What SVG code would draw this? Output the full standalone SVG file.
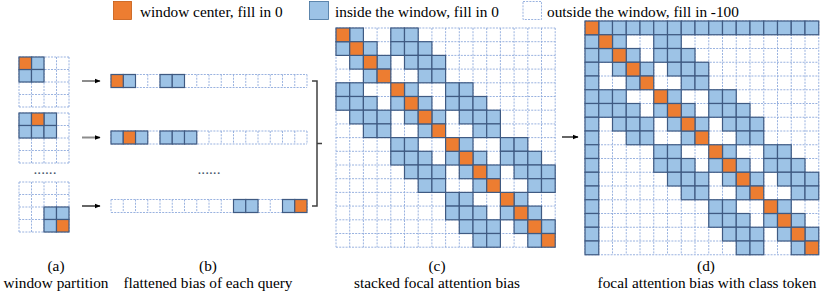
<svg xmlns="http://www.w3.org/2000/svg" xmlns:xlink="http://www.w3.org/1999/xlink" width="830" height="292" viewBox="0 0 830 292">
<style>
.t{font-family:"Liberation Serif","Times New Roman",serif;font-size:15.3px;fill:#000}
.dots{font-family:"Liberation Serif","Times New Roman",serif;font-size:15.3px;fill:#44546A}
.grid{fill:none;stroke:#8FAADC;stroke-width:0.9;stroke-dasharray:2 1.2}
.b{fill:#9DC3E6;stroke:#3F5A82}
.o{fill:#ED7D31;stroke:#3F5A82}
.arr{fill:none;stroke:#000;stroke-width:1.2}
.arg{fill:none;stroke:#8C8C8C;stroke-width:2}
</style>
<defs>
<marker id="ah" viewBox="0 0 10 10" refX="9" refY="5" markerWidth="6" markerHeight="6" orient="auto" markerUnits="userSpaceOnUse"><path d="M0 1L10 5L0 9z" fill="#000"/></marker>
<path id="ga" d="M0 0V50M12.5 0V50M25 0V50M37.5 0V50M50 0V50M0 0H50M0 12.5H50M0 25H50M0 37.5H50M0 50H50"/>
<path id="gb" d="M0 0V13M12.25 0V13M24.5 0V13M36.75 0V13M49 0V13M61.25 0V13M73.5 0V13M85.75 0V13M98 0V13M110.25 0V13M122.5 0V13M134.75 0V13M147 0V13M159.25 0V13M171.5 0V13M183.75 0V13M196 0V13M0 0H196M0 13H196"/>
<g id="fm">
<rect class="b" x="1" y="0" width="1" height="1"/><rect class="b" x="4" y="0" width="1" height="1"/><rect class="b" x="5" y="0" width="1" height="1"/>
<rect class="b" x="0" y="1" width="1" height="1"/><rect class="b" x="2" y="1" width="1" height="1"/><rect class="b" x="4" y="1" width="1" height="1"/><rect class="b" x="5" y="1" width="1" height="1"/><rect class="b" x="6" y="1" width="1" height="1"/>
<rect class="b" x="1" y="2" width="1" height="1"/><rect class="b" x="3" y="2" width="1" height="1"/><rect class="b" x="5" y="2" width="1" height="1"/><rect class="b" x="6" y="2" width="1" height="1"/><rect class="b" x="7" y="2" width="1" height="1"/>
<rect class="b" x="2" y="3" width="1" height="1"/><rect class="b" x="6" y="3" width="1" height="1"/><rect class="b" x="7" y="3" width="1" height="1"/>
<rect class="b" x="0" y="4" width="1" height="1"/><rect class="b" x="1" y="4" width="1" height="1"/><rect class="b" x="5" y="4" width="1" height="1"/><rect class="b" x="8" y="4" width="1" height="1"/><rect class="b" x="9" y="4" width="1" height="1"/>
<rect class="b" x="0" y="5" width="1" height="1"/><rect class="b" x="1" y="5" width="1" height="1"/><rect class="b" x="2" y="5" width="1" height="1"/><rect class="b" x="4" y="5" width="1" height="1"/><rect class="b" x="6" y="5" width="1" height="1"/><rect class="b" x="8" y="5" width="1" height="1"/><rect class="b" x="9" y="5" width="1" height="1"/><rect class="b" x="10" y="5" width="1" height="1"/>
<rect class="b" x="1" y="6" width="1" height="1"/><rect class="b" x="2" y="6" width="1" height="1"/><rect class="b" x="3" y="6" width="1" height="1"/><rect class="b" x="5" y="6" width="1" height="1"/><rect class="b" x="7" y="6" width="1" height="1"/><rect class="b" x="9" y="6" width="1" height="1"/><rect class="b" x="10" y="6" width="1" height="1"/><rect class="b" x="11" y="6" width="1" height="1"/>
<rect class="b" x="2" y="7" width="1" height="1"/><rect class="b" x="3" y="7" width="1" height="1"/><rect class="b" x="6" y="7" width="1" height="1"/><rect class="b" x="10" y="7" width="1" height="1"/><rect class="b" x="11" y="7" width="1" height="1"/>
<rect class="b" x="4" y="8" width="1" height="1"/><rect class="b" x="5" y="8" width="1" height="1"/><rect class="b" x="9" y="8" width="1" height="1"/><rect class="b" x="12" y="8" width="1" height="1"/><rect class="b" x="13" y="8" width="1" height="1"/>
<rect class="b" x="4" y="9" width="1" height="1"/><rect class="b" x="5" y="9" width="1" height="1"/><rect class="b" x="6" y="9" width="1" height="1"/><rect class="b" x="8" y="9" width="1" height="1"/><rect class="b" x="10" y="9" width="1" height="1"/><rect class="b" x="12" y="9" width="1" height="1"/><rect class="b" x="13" y="9" width="1" height="1"/><rect class="b" x="14" y="9" width="1" height="1"/>
<rect class="b" x="5" y="10" width="1" height="1"/><rect class="b" x="6" y="10" width="1" height="1"/><rect class="b" x="7" y="10" width="1" height="1"/><rect class="b" x="9" y="10" width="1" height="1"/><rect class="b" x="11" y="10" width="1" height="1"/><rect class="b" x="13" y="10" width="1" height="1"/><rect class="b" x="14" y="10" width="1" height="1"/><rect class="b" x="15" y="10" width="1" height="1"/>
<rect class="b" x="6" y="11" width="1" height="1"/><rect class="b" x="7" y="11" width="1" height="1"/><rect class="b" x="10" y="11" width="1" height="1"/><rect class="b" x="14" y="11" width="1" height="1"/><rect class="b" x="15" y="11" width="1" height="1"/>
<rect class="b" x="8" y="12" width="1" height="1"/><rect class="b" x="9" y="12" width="1" height="1"/><rect class="b" x="13" y="12" width="1" height="1"/>
<rect class="b" x="8" y="13" width="1" height="1"/><rect class="b" x="9" y="13" width="1" height="1"/><rect class="b" x="10" y="13" width="1" height="1"/><rect class="b" x="12" y="13" width="1" height="1"/><rect class="b" x="14" y="13" width="1" height="1"/>
<rect class="b" x="9" y="14" width="1" height="1"/><rect class="b" x="10" y="14" width="1" height="1"/><rect class="b" x="11" y="14" width="1" height="1"/><rect class="b" x="13" y="14" width="1" height="1"/><rect class="b" x="15" y="14" width="1" height="1"/>
<rect class="b" x="10" y="15" width="1" height="1"/><rect class="b" x="11" y="15" width="1" height="1"/><rect class="b" x="14" y="15" width="1" height="1"/>
<rect class="o" x="0" y="0" width="1" height="1"/><rect class="o" x="1" y="1" width="1" height="1"/><rect class="o" x="2" y="2" width="1" height="1"/><rect class="o" x="3" y="3" width="1" height="1"/><rect class="o" x="4" y="4" width="1" height="1"/><rect class="o" x="5" y="5" width="1" height="1"/><rect class="o" x="6" y="6" width="1" height="1"/><rect class="o" x="7" y="7" width="1" height="1"/><rect class="o" x="8" y="8" width="1" height="1"/><rect class="o" x="9" y="9" width="1" height="1"/><rect class="o" x="10" y="10" width="1" height="1"/><rect class="o" x="11" y="11" width="1" height="1"/><rect class="o" x="12" y="12" width="1" height="1"/><rect class="o" x="13" y="13" width="1" height="1"/><rect class="o" x="14" y="14" width="1" height="1"/><rect class="o" x="15" y="15" width="1" height="1"/>
</g>
</defs>
<rect width="830" height="292" fill="#fff"/>

<g id="legend">
<rect x="113.5" y="1.5" width="18" height="18" fill="#ED7D31" stroke="#C55A11" stroke-width="0.8"/>
<text class="t" x="140" y="16.5">window center, fill in 0</text>
<rect x="309.5" y="1.5" width="19" height="18" fill="#9DC3E6" stroke="#41719C" stroke-width="0.8"/>
<text class="t" x="335" y="16.5">inside the window, fill in 0</text>
<rect x="523" y="1.5" width="18.5" height="18" class="grid"/>
<text class="t" x="547" y="16.5">outside the window, fill in -100</text>
</g>

<g id="panel-a">
<use href="#ga" class="grid" x="19" y="57"/>
<use href="#ga" class="grid" x="19" y="113"/>
<use href="#ga" class="grid" x="19" y="182"/>
<g transform="translate(19 57) scale(12.5)" stroke-width="0.096">
<rect class="b" x="1" y="0" width="1" height="1"/><rect class="b" x="0" y="1" width="1" height="1"/><rect class="b" x="1" y="1" width="1" height="1"/><rect class="o" x="0" y="0" width="1" height="1"/>
</g>
<g transform="translate(19 113) scale(12.5)" stroke-width="0.096">
<rect class="b" x="0" y="0" width="1" height="1"/><rect class="b" x="2" y="0" width="1" height="1"/><rect class="b" x="0" y="1" width="1" height="1"/><rect class="b" x="1" y="1" width="1" height="1"/><rect class="b" x="2" y="1" width="1" height="1"/><rect class="o" x="1" y="0" width="1" height="1"/>
</g>
<g transform="translate(19 182) scale(12.5)" stroke-width="0.096">
<rect class="b" x="2" y="2" width="1" height="1"/><rect class="b" x="3" y="2" width="1" height="1"/><rect class="b" x="2" y="3" width="1" height="1"/><rect class="o" x="3" y="3" width="1" height="1"/>
</g>
<text class="dots" x="45" y="174" text-anchor="middle">......</text>
<text class="t" x="56" y="271" text-anchor="middle">(a)</text>
<text class="t" x="56" y="288" text-anchor="middle">window partition</text>
</g>

<g id="panel-b">
<use href="#gb" class="grid" x="111" y="74.5"/>
<use href="#gb" class="grid" x="111" y="131"/>
<use href="#gb" class="grid" x="111" y="199.5"/>
<g transform="translate(111 74.5) scale(12.25 13)" stroke-width="0.095">
<rect class="b" x="1" y="0" width="1" height="1"/><rect class="b" x="4" y="0" width="1" height="1"/><rect class="b" x="5" y="0" width="1" height="1"/><rect class="o" x="0" y="0" width="1" height="1"/>
</g>
<g transform="translate(111 131) scale(12.25 13)" stroke-width="0.095">
<rect class="b" x="0" y="0" width="1" height="1"/><rect class="b" x="2" y="0" width="1" height="1"/><rect class="b" x="4" y="0" width="1" height="1"/><rect class="b" x="5" y="0" width="1" height="1"/><rect class="b" x="6" y="0" width="1" height="1"/><rect class="o" x="1" y="0" width="1" height="1"/>
</g>
<g transform="translate(111 199.5) scale(12.25 13)" stroke-width="0.095">
<rect class="b" x="10" y="0" width="1" height="1"/><rect class="b" x="11" y="0" width="1" height="1"/><rect class="b" x="14" y="0" width="1" height="1"/><rect class="o" x="15" y="0" width="1" height="1"/>
</g>
<text class="dots" x="209" y="174" text-anchor="middle">......</text>
<text class="t" x="208" y="271" text-anchor="middle">(b)</text>
<text class="t" x="208" y="288" text-anchor="middle">flattened bias of each query</text>
</g>

<g id="panel-c">
<path class="grid" transform="translate(336 28)" d="M0 0V219.2M13.7 0V219.2M27.4 0V219.2M41.1 0V219.2M54.8 0V219.2M68.5 0V219.2M82.2 0V219.2M95.9 0V219.2M109.6 0V219.2M123.3 0V219.2M137 0V219.2M150.7 0V219.2M164.4 0V219.2M178.1 0V219.2M191.8 0V219.2M205.5 0V219.2M219.2 0V219.2M0 0H219.2M0 13.7H219.2M0 27.4H219.2M0 41.1H219.2M0 54.8H219.2M0 68.5H219.2M0 82.2H219.2M0 95.9H219.2M0 109.6H219.2M0 123.3H219.2M0 137H219.2M0 150.7H219.2M0 164.4H219.2M0 178.1H219.2M0 191.8H219.2M0 205.5H219.2M0 219.2H219.2"/>
<g transform="translate(336 28) scale(13.7)" stroke-width="0.088">
<use href="#fm"/>
</g>
<text class="t" x="437" y="271" text-anchor="middle">(c)</text>
<text class="t" x="437" y="288" text-anchor="middle">stacked focal attention bias</text>
</g>

<g id="panel-d">
<path class="grid" transform="translate(585 21)" d="M0 0V233.75M13.75 0V233.75M27.5 0V233.75M41.25 0V233.75M55 0V233.75M68.75 0V233.75M82.5 0V233.75M96.25 0V233.75M110 0V233.75M123.75 0V233.75M137.5 0V233.75M151.25 0V233.75M165 0V233.75M178.75 0V233.75M192.5 0V233.75M206.25 0V233.75M220 0V233.75M233.75 0V233.75M0 0H233.75M0 13.75H233.75M0 27.5H233.75M0 41.25H233.75M0 55H233.75M0 68.75H233.75M0 82.5H233.75M0 96.25H233.75M0 110H233.75M0 123.75H233.75M0 137.5H233.75M0 151.25H233.75M0 165H233.75M0 178.75H233.75M0 192.5H233.75M0 206.25H233.75M0 220H233.75M0 233.75H233.75"/>
<g transform="translate(585 21) scale(13.75)" stroke-width="0.088">
<rect class="b" x="1" y="0" width="1" height="1"/><rect class="b" x="2" y="0" width="1" height="1"/><rect class="b" x="3" y="0" width="1" height="1"/><rect class="b" x="4" y="0" width="1" height="1"/><rect class="b" x="5" y="0" width="1" height="1"/><rect class="b" x="6" y="0" width="1" height="1"/><rect class="b" x="7" y="0" width="1" height="1"/><rect class="b" x="8" y="0" width="1" height="1"/><rect class="b" x="9" y="0" width="1" height="1"/><rect class="b" x="10" y="0" width="1" height="1"/><rect class="b" x="11" y="0" width="1" height="1"/><rect class="b" x="12" y="0" width="1" height="1"/><rect class="b" x="13" y="0" width="1" height="1"/><rect class="b" x="14" y="0" width="1" height="1"/><rect class="b" x="15" y="0" width="1" height="1"/><rect class="b" x="16" y="0" width="1" height="1"/>
<rect class="b" x="0" y="1" width="1" height="1"/><rect class="b" x="0" y="2" width="1" height="1"/><rect class="b" x="0" y="3" width="1" height="1"/><rect class="b" x="0" y="4" width="1" height="1"/><rect class="b" x="0" y="5" width="1" height="1"/><rect class="b" x="0" y="6" width="1" height="1"/><rect class="b" x="0" y="7" width="1" height="1"/><rect class="b" x="0" y="8" width="1" height="1"/><rect class="b" x="0" y="9" width="1" height="1"/><rect class="b" x="0" y="10" width="1" height="1"/><rect class="b" x="0" y="11" width="1" height="1"/><rect class="b" x="0" y="12" width="1" height="1"/><rect class="b" x="0" y="13" width="1" height="1"/><rect class="b" x="0" y="14" width="1" height="1"/><rect class="b" x="0" y="15" width="1" height="1"/><rect class="b" x="0" y="16" width="1" height="1"/>
<rect class="o" x="0" y="0" width="1" height="1"/>
<use href="#fm" x="1" y="1"/>
</g>
<text class="t" x="706" y="271" text-anchor="middle">(d)</text>
<text class="t" x="707" y="288" text-anchor="middle">focal attention bias with class token</text>
</g>

<g id="connectors">
<line class="arg" x1="82" y1="81" x2="100" y2="81" marker-end="url(#ah)"/>
<line class="arg" x1="82" y1="137.5" x2="100" y2="137.5" marker-end="url(#ah)"/>
<line class="arr" x1="82" y1="206" x2="100" y2="206" marker-end="url(#ah)"/>
<path d="M312 81H317V206H312M317 143.5H322" fill="none" stroke="#404040" stroke-width="1.5"/>
<line class="arr" x1="562" y1="137" x2="578" y2="137" marker-end="url(#ah)"/>
</g>
</svg>
